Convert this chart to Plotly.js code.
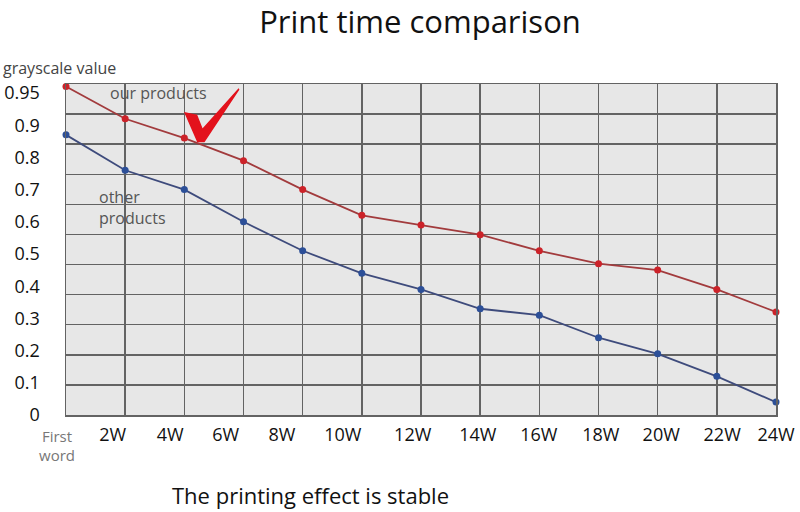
<!DOCTYPE html>
<html>
<head>
<meta charset="utf-8">
<script src="https://cdn.plot.ly/plotly-3.0.1.min.js"></script>
<style>html,body{margin:0;padding:0;background:#fff;}#chart{width:800px;height:512px;}</style>
</head>
<body>
<div id="chart"></div>
<script>
// ---- data ----
var categories = ["First word", "2W", "4W", "6W", "8W", "10W", "12W", "14W", "16W", "18W", "20W", "22W", "24W"];
var ourProducts = [1.02, 0.92, 0.86, 0.79, 0.70, 0.62, 0.59, 0.56, 0.51, 0.47, 0.45, 0.39, 0.32];
var otherProducts = [0.87, 0.76, 0.70, 0.60, 0.51, 0.44, 0.39, 0.33, 0.31, 0.24, 0.19, 0.12, 0.04];
var yTickValues = [0, 0.1, 0.2, 0.3, 0.4, 0.5, 0.6, 0.7, 0.8, 0.9, 1.0];
var yTickLabels = ["0", "0.1", "0.2", "0.3", "0.4", "0.5", "0.6", "0.7", "0.8", "0.9", "0.95"];
var seriesNames = ["our products", "other products"];

// ---- layout helpers (label placement as in the reference) ----
var xLabelPositions = [0.79, 1.76, 2.70, 3.65, 4.68, 5.86, 6.96, 7.99, 9.04, 10.06, 11.09, 12.0];
var gridColor = "#636363";
var font = "Open Sans, Noto Sans, sans-serif";

var traces = [
  {
    x: categories, y: ourProducts, name: seriesNames[0],
    type: "scatter", mode: "lines+markers", cliponaxis: false,
    line: {color: "#a23b3d", width: 1.8},
    marker: {color: "#cc2229", size: 7},
    hoverinfo: "x+y"
  },
  {
    x: categories, y: otherProducts, name: seriesNames[1],
    type: "scatter", mode: "lines+markers", cliponaxis: false,
    line: {color: "#3e4b7c", width: 1.8},
    marker: {color: "#2c4f98", size: 7},
    hoverinfo: "x+y"
  },
  {x: [], y: [], xaxis: "x", yaxis: "y2", type: "scatter", mode: "lines", hoverinfo: "skip", showlegend: false},
  {x: [], y: [], xaxis: "x2", yaxis: "y", type: "scatter", mode: "lines", hoverinfo: "skip", showlegend: false}
];

var firstTickText = categories.map(function (c, i) { return i === 0 ? c.replace(" ", "<br>") : ""; });

var layout = {
  width: 800, height: 512,
  margin: {l: 66, r: 24, t: 84, b: 97, pad: 0},
  paper_bgcolor: "#ffffff",
  plot_bgcolor: "#e7e7e7",
  showlegend: false,
  font: {family: font, color: "#111"},
  title: {
    text: "Print time comparison",
    font: {family: font, size: 31, color: "#111"},
    xref: "container", x: 0.525, xanchor: "center",
    yref: "container", y: 1, yanchor: "top",
    pad: {t: 11}
  },
  xaxis: {
    type: "category", range: [0, 12],
    tickmode: "array", tickvals: categories, ticktext: firstTickText,
    showgrid: true, gridcolor: gridColor, gridwidth: 1.5,
    showline: true, linecolor: gridColor, linewidth: 1.5, mirror: true,
    ticks: "", zeroline: false,
    tickfont: {family: font, size: 15, color: "#777"},
    ticklabelshift: -9, ticklabelstandoff: 7
  },
  xaxis2: {
    overlaying: "x", anchor: "y", side: "bottom",
    range: [0, 12], tickmode: "array",
    tickvals: xLabelPositions, ticktext: categories.slice(1),
    showgrid: false, showline: false, zeroline: false, ticks: "",
    tickfont: {family: font, size: 18, color: "#111"},
    ticklabelstandoff: 7
  },
  yaxis: {
    range: [0, 1.028], tickmode: "array",
    tickvals: yTickValues, ticktext: yTickLabels,
    showgrid: false, zeroline: false, ticks: "",
    showline: true, linecolor: gridColor, linewidth: 1.5, mirror: true,
    tickfont: {family: font, size: 18, color: "#111"},
    ticklabelstandoff: 21
  },
  yaxis2: {
    overlaying: "y", side: "left", range: [0, 1.1],
    tickmode: "linear", tick0: 0, dtick: 0.1,
    showgrid: true, gridcolor: gridColor, gridwidth: 1.5,
    showticklabels: false, ticks: "", zeroline: false, showline: false
  },
  shapes: [
    {
      type: "path", xref: "paper", yref: "paper",
      path: "M 0.168 0.9125 L 0.184 0.905 L 0.192 0.862 L 0.2435 0.985 L 0.1945 0.826 L 0.1855 0.826 Z",
      fillcolor: "#e3121c", line: {color: "#e3121c", width: 1.5}
    }
  ],
  annotations: [
    {text: "grayscale value", xref: "paper", yref: "paper", x: -0.0915, y: 1.048,
     xanchor: "left", yanchor: "middle", showarrow: false,
     font: {family: font, size: 16, color: "#444"}},
    {text: seriesNames[0], xref: "paper", yref: "paper", x: 0.0592, y: 0.973,
     xanchor: "left", yanchor: "middle", showarrow: false,
     font: {family: font, size: 16, color: "#555"}},
    {text: "other<br>products", xref: "paper", yref: "paper", x: 0.0437, y: 0.628,
     xanchor: "left", yanchor: "middle", align: "left", showarrow: false,
     font: {family: font, size: 16, color: "#555"}},
    {text: "The printing effect is stable", xref: "paper", yref: "paper", x: 0.3437, y: -0.2417,
     xanchor: "center", yanchor: "middle", showarrow: false,
     font: {family: font, size: 22, color: "#111"}}
  ]
};

Plotly.newPlot("chart", traces, layout, {staticPlot: true, displayModeBar: false});
</script>
</body>
</html>
